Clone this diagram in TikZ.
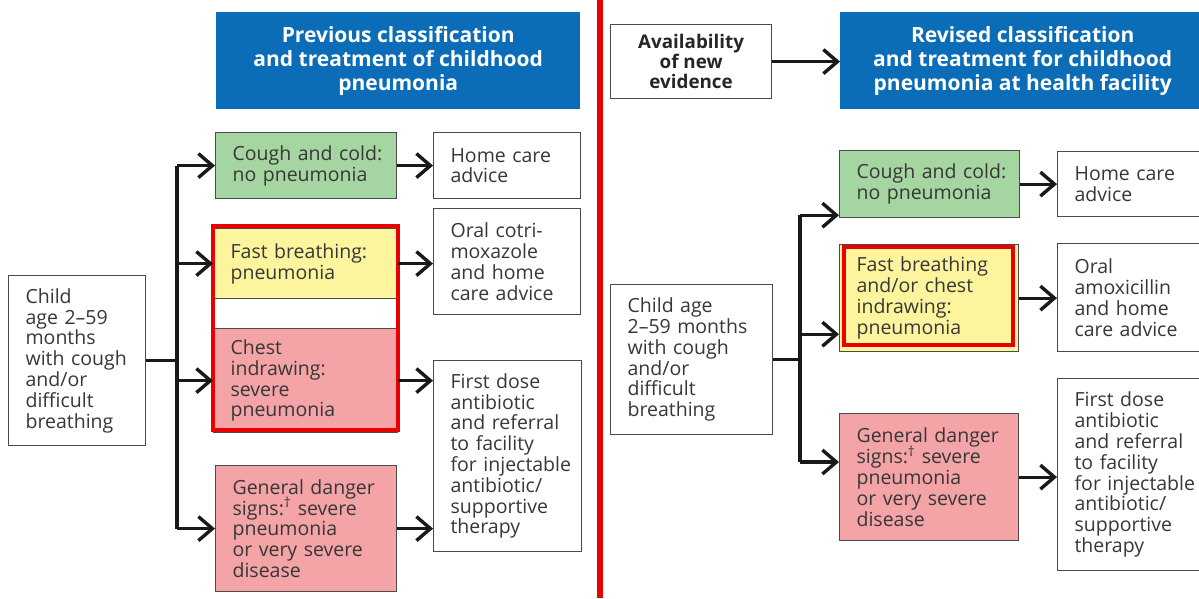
\documentclass[tikz,border=0pt]{standalone}
\usepackage{fontspec}
\setmainfont{Open Sans}
\usetikzlibrary{arrows.meta}

\definecolor{hdrblue}{RGB}{11,108,183}
\definecolor{boxgreen}{RGB}{165,213,160}
\definecolor{boxyellow}{RGB}{253,245,158}
\definecolor{boxpink}{RGB}{244,163,166}
\definecolor{alertred}{RGB}{235,0,0}
\definecolor{edgegray}{RGB}{75,75,75}
\definecolor{inkgray}{RGB}{55,55,55}

\newcommand{\dg}{\smash{\textsuperscript{†}}}

\begin{document}
\begin{tikzpicture}[x=1pt,y=-1pt,
  box/.style n args={3}{draw=edgegray, line width=1.2pt, anchor=north west,
    inner xsep=17pt, inner ysep=0pt, minimum width=#1, minimum height=#2,
    text width=#3, align=left, text=inkgray,
    font=\fontsize{19.5}{20.8}\selectfont},
  hdr/.style n args={2}{fill=hdrblue, anchor=north west, inner sep=0pt,
    minimum width=#1, minimum height=#2, align=center, text=white,
    font=\bfseries\fontsize{21}{23.8}\selectfont},
  keybox/.style n args={2}{draw=edgegray, line width=1.2pt, anchor=north west,
    inner sep=0pt, minimum width=#1, minimum height=#2, align=center,
    text=black!85, font=\bfseries\fontsize{18.8}{20.2}\selectfont},
  trunk/.style={line width=3.5pt, draw=black!90},
  arr/.style={line width=3.2pt, draw=black!90,
    -{Straight Barb[length=14pt,width=24pt,line width=3.4pt]}},
  redframe/.style={draw=alertred, line width=4pt},
]
\useasboundingbox (0,0) rectangle (1199,598);
\fill[white] (0,0) rectangle (1199,598);

% ---------- previous classification ----------
\node[hdr={364pt}{97pt}] (hdrL) at (216,12)
  {Previous classification\\and treatment of childhood\\pneumonia};

\node[box={137pt}{170pt}{103pt}] (childL) at (8,275)
  {Child\\age~2–59\\months\\with~cough\\and/or\\difficult\\breathing};

\node[box={181pt}{66pt}{147pt}, fill=boxgreen] (coughL) at (215,132)
  {Cough~and~cold:\\no~pneumonia};
\node[box={184pt}{70pt}{150pt}, fill=boxyellow] (fastL) at (213,228)
  {Fast~breathing:\\pneumonia};
\node[box={184pt}{104pt}{150pt}, fill=boxpink] (chestL) at (213,328)
  {Chest\\indrawing:\\severe\\pneumonia};
\node[box={181pt}{126pt}{147pt}, fill=boxpink] (genL) at (215,465)
  {General~danger\\signs:\dg~severe\\pneumonia\\or~very~severe\\disease};

\draw[redframe] ([yshift=2pt]fastL.north west) rectangle ([yshift=3pt]chestL.south east);

\node[box={147pt}{66pt}{113pt}] (homeL) at (433,132)
  {Home~care\\advice};
\node[box={147pt}{106pt}{113pt}] (oralL) at (433,208)
  {Oral~cotri-\\moxazole\\and~home\\care~advice};
\node[box={148pt}{191pt}{114pt}] (firstL) at (433,360)
  {First~dose\\antibiotic\\and~referral\\to~facility\\\mbox{for injectable}\\antibiotic/\\supportive\\therapy};

\coordinate (tl) at (177,0);
\draw[trunk] (childL.east) -- (childL.east -| tl);
\draw[trunk] (tl |- coughL.west) -- (tl |- genL.west);
\draw[arr] (tl |- coughL.west) -- (coughL.west);
\draw[arr] (tl |- fastL.west) -- (fastL.west);
\draw[arr] (tl |- chestL.west) -- (chestL.west);
\draw[arr] (tl |- genL.west) -- (genL.west);

\draw[arr] (coughL.east) -- (coughL.east -| homeL.west);
\draw[arr] (fastL.east) -- (fastL.east -| oralL.west);
\draw[arr] (chestL.east) -- (chestL.east -| firstL.west);
\draw[arr] (genL.east) -- (genL.east -| firstL.west);

% ---------- dividing rule ----------
\draw[draw=alertred, line width=6pt] (600,0) -- (600,598);

% ---------- revised classification ----------
\node[keybox={161pt}{74pt}] (availR) at (610,24)
  {Availability\\of new\\evidence};
\node[hdr={365pt}{97pt}] (hdrR) at (840,12)
  {Revised classification\\and treatment for childhood\\pneumonia at health facility};
\draw[arr] (availR.east) -- (availR.east -| hdrR.west);

\node[box={162pt}{150pt}{128pt}] (childR) at (610,284)
  {Child~age\\2–59~months\\with~cough\\and/or\\difficult\\breathing};

\node[box={180pt}{67pt}{146pt}, fill=boxgreen] (coughR) at (839,150)
  {Cough~and~cold:\\no~pneumonia};
\node[box={179pt}{107pt}{145pt}, fill=boxyellow] (fastR) at (839,244)
  {Fast~breathing\\and/or~chest\\indrawing:\\pneumonia};
\draw[redframe] ([xshift=5pt,yshift=-3pt]fastR.north west)
  rectangle ([xshift=-6pt,yshift=7pt]fastR.south east);
\node[box={179pt}{127pt}{145pt}, fill=boxpink] (genR) at (839,413)
  {General~danger\\signs:\dg~severe\\pneumonia\\or~very~severe\\disease};

\node[box={150pt}{65pt}{116pt}] (homeR) at (1057,151)
  {Home~care\\advice};
\node[box={150pt}{108pt}{116pt}] (oralR) at (1057,243)
  {Oral\\amoxicillin\\and~home\\care~advice};
\node[box={150pt}{192pt}{116pt}] (firstR) at (1057,378)
  {First~dose\\antibiotic\\and~referral\\to~facility\\\mbox{for injectable}\\antibiotic/\\supportive\\therapy};

\coordinate (tr) at (800,0);
\coordinate (cin) at ([yshift=3pt]coughR.south west);
\coordinate (fin) at ([yshift=18pt]fastR.south west);
\coordinate (gin) at ([yshift=-49pt]genR.north west);
\draw[trunk] (childR.east) -- (childR.east -| tr);
\draw[trunk] (tr |- cin) -- (tr |- gin);
\draw[arr] (tr |- cin) -- (cin);
\draw[arr] (tr |- fin) -- (fin);
\draw[arr] (tr |- gin) -- (gin);

\draw[arr] (coughR.east) -- (coughR.east -| homeR.west);
\draw[arr] (fastR.east) -- (fastR.east -| oralR.west);
\draw[arr] (genR.east) -- (genR.east -| firstR.west);
\end{tikzpicture}
\end{document}
